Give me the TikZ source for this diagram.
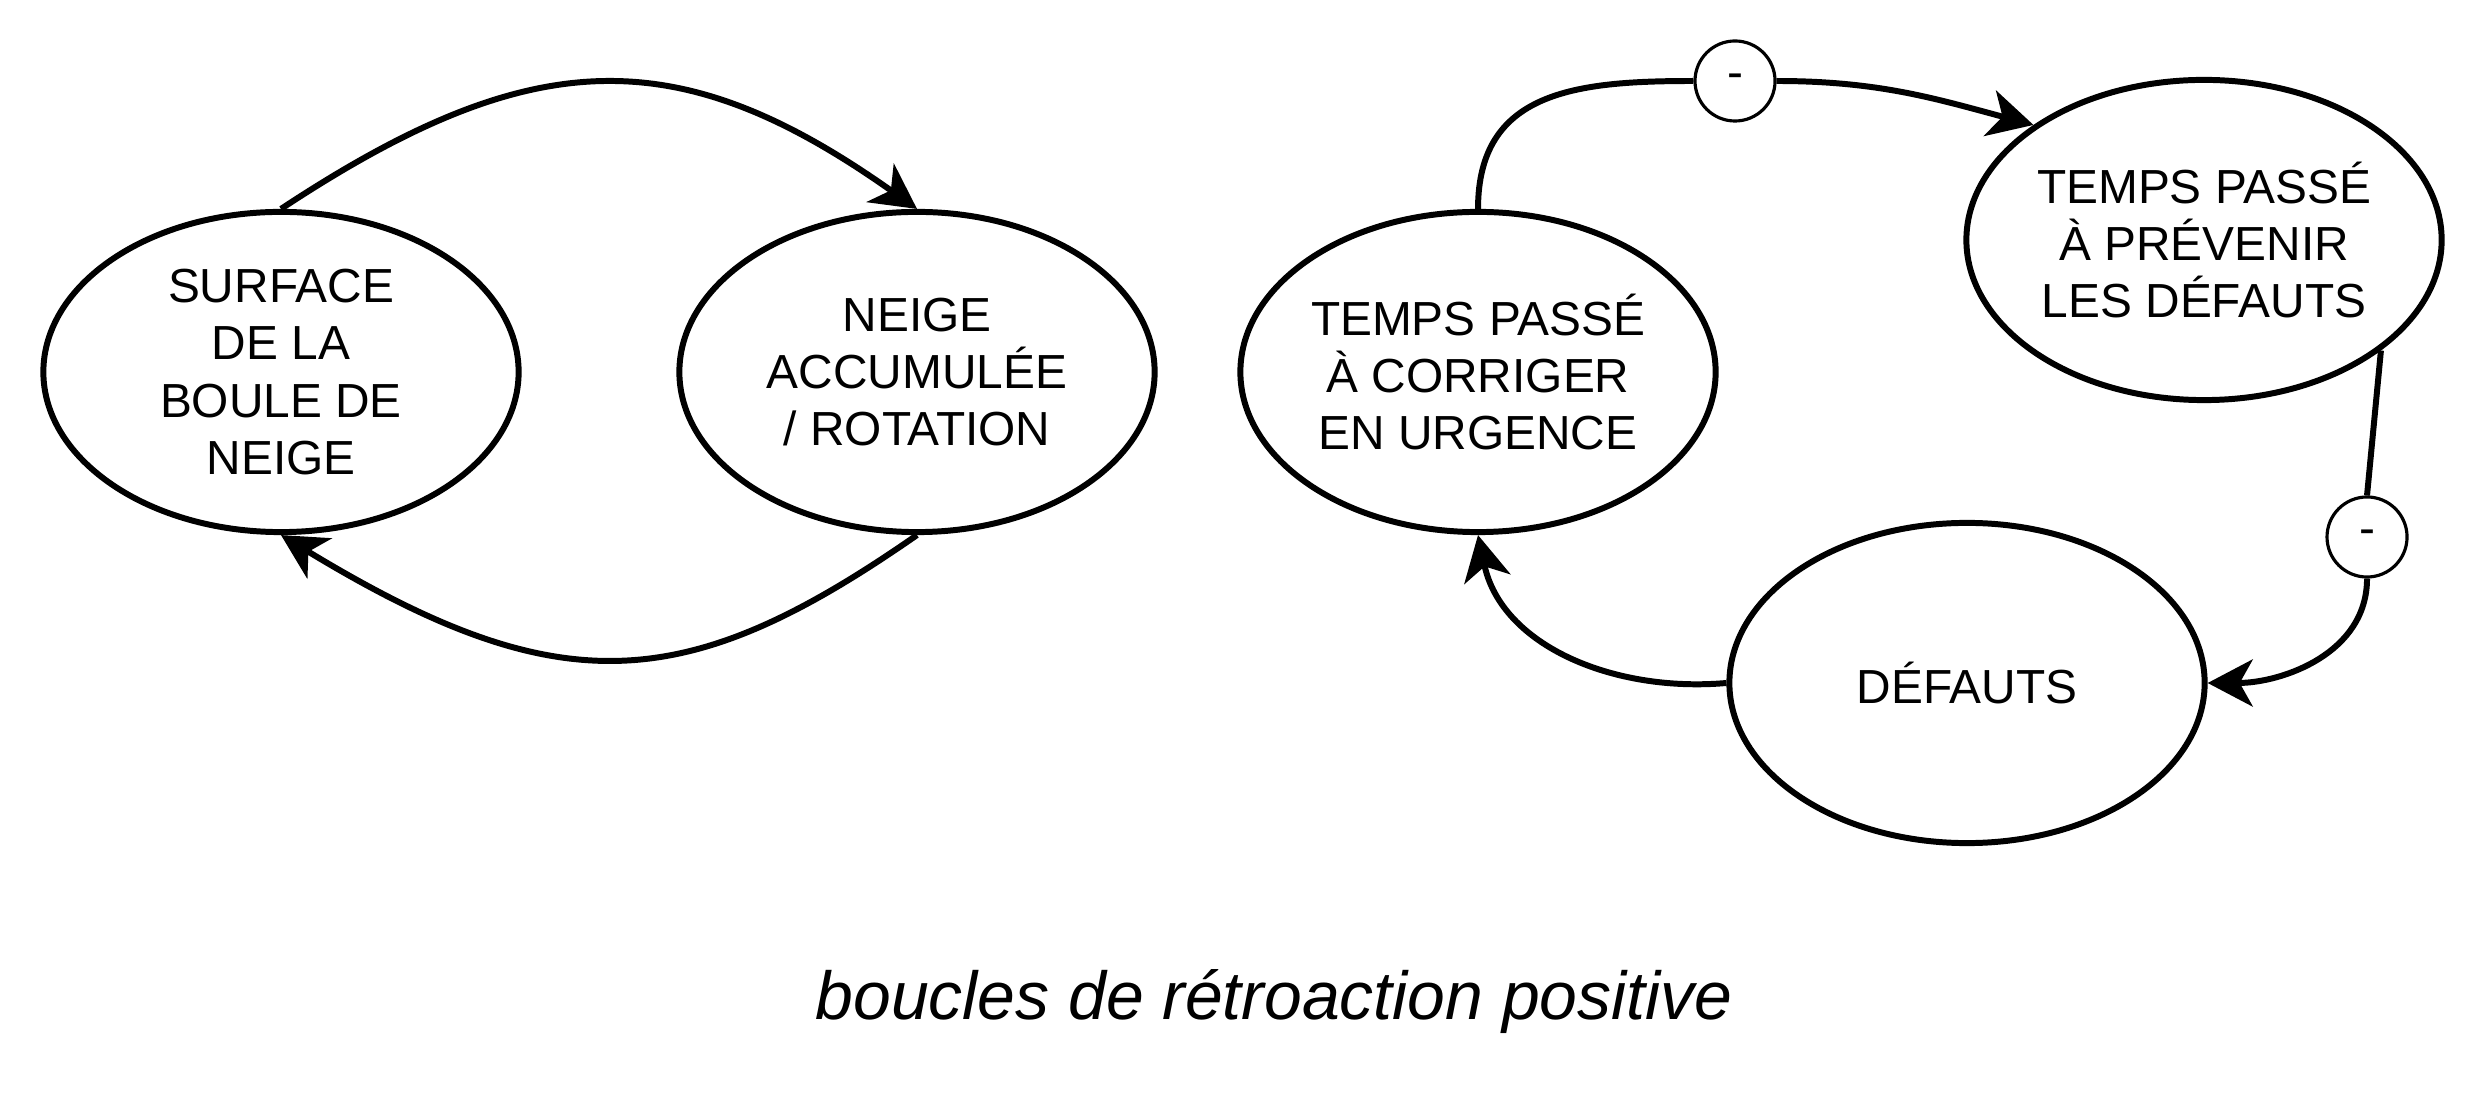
\documentclass[tikz,border=0pt]{standalone}
\usepackage{fontspec}
\setmainfont{Liberation Sans}
\usetikzlibrary{shapes.geometric,arrows.meta}

\begin{document}
\begin{tikzpicture}[x=0.01cm,y=0.01cm,
  etat/.style={ellipse,draw,line width=1.7pt,minimum width=4.75cm,minimum height=3.2cm,
    inner sep=0pt,align=center,font=\fontsize{13.6}{16.3}\selectfont},
  signe/.style={circle,draw,line width=0.9pt,minimum size=0.8cm,inner sep=0pt,
    font=\fontsize{13.6}{16}\selectfont},
  lien/.style={line width=1.7pt},
  fleche/.style={lien,-{Stealth[length=0.45cm,width=0.47cm,inset=0.13cm]}}]
  \useasboundingbox (0,0) rectangle (2492,-1104);
  % boule de neige
  \node[etat] (surface) at (281,-372) {SURFACE\\DE LA\\BOULE DE\\NEIGE};
  \node[etat] (neige) at (917,-372) {NEIGE\\ACCUMULÉE\\/ ROTATION};
  \draw[fleche] (surface.north) .. controls +(250,165) and +(-240,170) .. (neige.north);
  \draw[fleche] (neige.south) .. controls +(-230,-160) and +(280,-170) .. (surface.south);
  % defauts
  \node[etat] (corriger) at (1478,-372) {TEMPS PASSÉ\\À CORRIGER\\EN URGENCE};
  \node[etat] (prevenir) at (2204,-240) {TEMPS PASSÉ\\À PRÉVENIR\\LES DÉFAUTS};
  \node[etat] (defauts) at (1967,-683) {DÉFAUTS};
  \node[signe] (moins1) at (1735,-81) {-};
  \node[signe] (moins2) at (2367,-537) {-};
  \draw[lien] (corriger.north) to[out=90,in=180,looseness=1.2] (moins1.west);
  \draw[fleche] (moins1.east) to[out=0,in=165] (prevenir.146);
  \draw[lien] (prevenir.-32) -- (moins2.north);
  \draw[fleche] (moins2.south) to[out=-90,in=0] (defauts.east);
  \draw[fleche] (defauts.west) to[out=185,in=-78] (corriger.south);
  \node[font=\itshape\fontsize{19.3}{23}\selectfont] (legende) at (1274,-1002)
    {boucles de rétroaction positive};
\end{tikzpicture}
\end{document}
